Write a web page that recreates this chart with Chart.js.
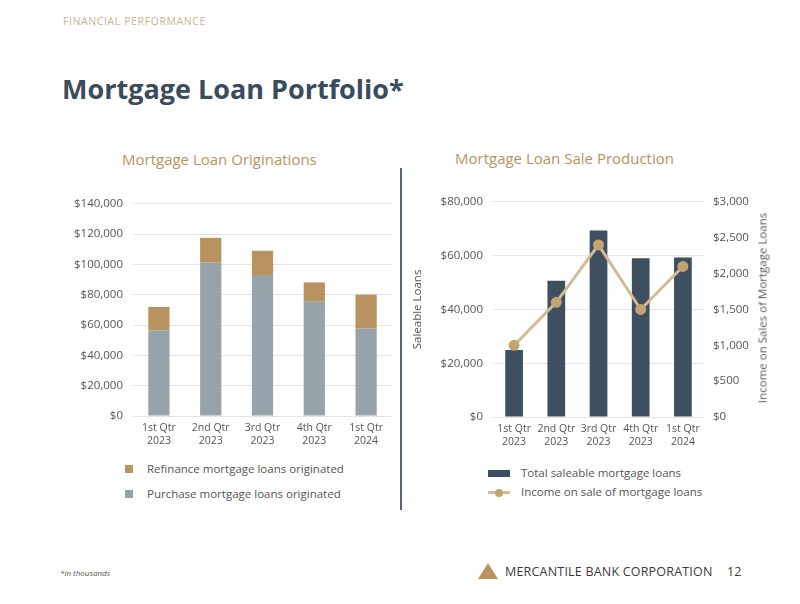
<!DOCTYPE html>
<html>
<head>
<meta charset="utf-8">
<script src="https://cdn.jsdelivr.net/npm/chart.js@4.4.1/dist/chart.umd.min.js"></script>
<style>
  html, body { margin: 0; padding: 0; background: #ffffff; }
  body { width: 800px; height: 604px; position: relative; overflow: hidden; font-family: "Open Sans", sans-serif; }
  .abs { position: absolute; white-space: nowrap; }
  #kicker { left: 63px; top: 14px; font-size: 10.5px; color: #c9b48e; letter-spacing: 0.6px; }
  #title { left: 62px; top: 70px; font-size: 27px; font-weight: 700; color: #3a4b5c; }
  .sub { font-size: 15px; color: #b9935f; }
  #subL { left: 122px; top: 149px; }
  #subR { left: 455px; top: 148px; }
  #divider { left: 400px; top: 168px; width: 1.5px; height: 342px; background: #55657a; }
  .leg { font-size: 11.5px; color: #555; }
  .sq { position: absolute; width: 8px; height: 8px; }
  #foot { left: 60px; top: 567px; font-size: 8px; font-style: italic; color: #555; }
  #brand { left: 505px; top: 563px; font-size: 12.5px; color: #3a3a3a; letter-spacing: 0.2px; }
  #page { left: 727px; top: 563px; font-size: 12.5px; color: #3a3a3a; }
  #tri { left: 478px; top: 563px; width: 0; height: 0; border-left: 10px solid transparent; border-right: 10px solid transparent; border-bottom: 16px solid #b9935f; }
  #rtitle { left: 762px; top: 308px; font-size: 11.5px; color: #555; transform: translate(-50%, -50%) rotate(-90deg); }
  canvas { position: absolute; }
</style>
</head>
<body>
<div class="abs" id="kicker">FINANCIAL PERFORMANCE</div>
<div class="abs" id="title">Mortgage Loan Portfolio*</div>
<div class="abs sub" id="subL">Mortgage Loan Originations</div>
<div class="abs sub" id="subR">Mortgage Loan Sale Production</div>
<div class="abs" id="divider"></div>

<div class="sq" style="left:125px; top:465px; background:#b9935f;"></div>
<div class="abs leg" style="left:147px; top:461px;">Refinance mortgage loans originated</div>
<div class="sq" style="left:125px; top:490px; background:#97a3ab;"></div>
<div class="abs leg" style="left:147px; top:486px;">Purchase mortgage loans originated</div>

<div class="abs" style="left:488px; top:470px; width:22px; height:7px; background:#3e5060;"></div>
<div class="abs leg" style="left:521px; top:465px;">Total saleable mortgage loans</div>
<div class="abs" style="left:488px; top:491px; width:22px; height:3px; background:#d2bb92;"></div>
<div class="abs" style="left:495px; top:488.5px; width:8px; height:8px; border-radius:50%; background:#c4a373;"></div>
<div class="abs leg" style="left:521px; top:484px;">Income on sale of mortgage loans</div>

<div class="abs" id="foot">*in thousands</div>
<div class="abs" id="tri"></div>
<div class="abs" id="brand">MERCANTILE BANK CORPORATION</div>
<div class="abs" id="page">12</div>

<canvas id="cL" width="345" height="268" style="left:60px; top:187px; width:345px; height:268px;"></canvas>
<canvas id="cR" width="385" height="270" style="left:405px; top:185px; width:385px; height:270px;"></canvas>
<div class="abs" id="rtitle">Income on Sales of Mortgage Loans</div>

<script>
const quarters = [["1st Qtr","2023"],["2nd Qtr","2023"],["3rd Qtr","2023"],["4th Qtr","2023"],["1st Qtr","2024"]];
const purchaseLoans = [56400, 101200, 93000, 75500, 57700];
const refinanceLoans = [15600, 16400, 16100, 12700, 22400];
const saleableLoans = [24900, 50700, 69400, 59000, 59300];
const saleIncome = [1000, 1600, 2400, 1500, 2100];

const tickFont = { family: "'Open Sans', sans-serif", size: 11.5 };
const tickColor = "#555555";
const gridColor = "#e4e4e4";
const fmt = v => "$" + Number(v).toLocaleString("en-US");

Chart.defaults.animation = false;
Chart.defaults.font.family = "'Open Sans', sans-serif";

new Chart(document.getElementById("cL"), {
  type: "bar",
  data: {
    labels: quarters,
    datasets: [
      { label: "Purchase mortgage loans originated", data: purchaseLoans, backgroundColor: "#97a3ab", barPercentage: 0.82, categoryPercentage: 0.5 },
      { label: "Refinance mortgage loans originated", data: refinanceLoans, backgroundColor: "#b9935f", barPercentage: 0.82, categoryPercentage: 0.5 }
    ]
  },
  options: {
    responsive: false,
    layout: { padding: { top: 0, right: 13, left: 0, bottom: 0 } },
    plugins: { legend: { display: false }, tooltip: { enabled: false } },
    scales: {
      x: {
        stacked: true,
        grid: { display: false, drawTicks: false },
        border: { display: false },
        ticks: { font: { family: "'Open Sans', sans-serif", size: 10.5 }, color: tickColor, padding: 6, maxRotation: 0 },
        afterFit: s => { s.height = 39; }
      },
      y: {
        stacked: true,
        min: 0, max: 140000,
        ticks: { stepSize: 20000, callback: fmt, font: tickFont, color: tickColor, padding: 10 },
        grid: { color: gridColor, drawTicks: false, lineWidth: 1 },
        border: { display: false },
        afterFit: s => { s.width = 73; }
      }
    }
  }
});

new Chart(document.getElementById("cR"), {
  type: "bar",
  data: {
    labels: quarters,
    datasets: [
      { type: "line", label: "Income on sale of mortgage loans", data: saleIncome, yAxisID: "y1",
        borderColor: "#d2bb92", borderWidth: 3, pointRadius: 4, pointBackgroundColor: "#c4a373",
        pointBorderColor: "#c4a373", tension: 0, order: 0 },
      { label: "Total saleable mortgage loans", data: saleableLoans, yAxisID: "y",
        backgroundColor: "#3e5060", barPercentage: 0.84, categoryPercentage: 0.5, order: 1 }
    ]
  },
  options: {
    responsive: false,
    layout: { padding: { top: 0, right: 0, left: 0, bottom: 0 } },
    plugins: { legend: { display: false }, tooltip: { enabled: false } },
    scales: {
      x: {
        grid: { display: false, drawTicks: false },
        border: { display: false },
        ticks: { font: { family: "'Open Sans', sans-serif", size: 10.5 }, color: tickColor, padding: 6, maxRotation: 0 },
        afterFit: s => { s.height = 38; }
      },
      y: {
        position: "left",
        min: 0, max: 80000,
        ticks: { stepSize: 20000, callback: fmt, font: tickFont, color: tickColor, padding: 10 },
        grid: { color: gridColor, drawTicks: false },
        border: { display: false },
        title: { display: true, text: "Saleable Loans", color: tickColor, font: { size: 11.5 }, padding: { top: 6, bottom: 0 } },
        afterFit: s => { s.width = 88; }
      },
      y1: {
        position: "right",
        min: 0, max: 3000,
        ticks: { stepSize: 500, callback: fmt, font: tickFont, color: tickColor, padding: 9 },
        grid: { display: false, drawTicks: false },
        border: { display: false },
        afterFit: s => { s.width = 86; }
      }
    }
  }
});
</script>
</body>
</html>
